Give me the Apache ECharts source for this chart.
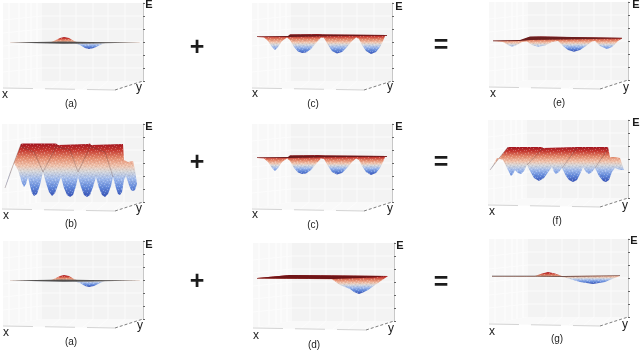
<!DOCTYPE html>
<html>
<head>
<meta charset="utf-8">
<script src="https://cdn.jsdelivr.net/npm/echarts@6/dist/echarts.min.js"></script>
<style>
  html, body { margin: 0; background: #fff; }
  #chart { width: 640px; height: 350px; }
</style>
</head>
<body>
<div id="chart"></div>
<script>
// surface outlines as [x, E] pairs
const aTop = [[7,38.5],[47,38.5],[52,40.5],[57,43],[61,44],[66,43],[71,40],[75,38.5],[137,38.5]]
const aBottom = [[7,38],[72,37.5],[77,36],[82,33],[86,32],[91,33],[97,36],[102,38],[137,38]]
const aPlane = [[7,38.4],[60,39.4],[87,39],[137,38.5],[87,37.4],[60,37.3]]

const bTop = [[3,14],[8,30],[13,42],[19,58],[20,58.5],[54,58.5],[56,57],[86,58],[88,58.5],[89,57],[121,58],[122,42],[126,40],[131,41],[133,32],[135,18]]
const bBottom = [[3,14],[8,28],[12,39],[16,32],[20,19],[22,15],[24,18],[26,25],[28,16],[30,9],[32,6],[35,8],[38,17],[41,30],[44,19],[47,10],[50,6],[53,9],[56,17],[59,25],[62,14],[65,7],[68,5],[71,7],[74,16],[76,25],[79,15],[82,7],[85,5],[88,7],[91,15],[94,25],[97,14],[100,7],[103,5],[106,8],[109,16],[111,25],[114,14],[116,8],[118,7],[120,10],[122,22],[124,26],[127,17],[129,12],[131,11],[133,12],[135,18]]
const bLines = [[[3,14],[13,42],[19,58]], [[41,30],[55,57]], [[76,30],[89,57]], [[20,55],[32,50],[41,30]], [[56,55],[68,52],[76,30]], [[89,55],[103,50],[111,25]]]

const cTop = [[5,44.5],[36,44.5],[38,46.5],[66,47],[73,46.5],[135,46]]
const cBottom = [[5,44],[12,43.5],[16,40],[20,34],[23,31],[26,34],[30,40],[35,43.5],[38,41],[42,34],[46,29.5],[50,28],[54,28.5],[59,32],[64,38],[69,43.5],[72,43],[76,36],[80,30],[85,27.5],[90,29],[95,34],[100,40],[104,43.5],[107,42],[110,36],[114,30],[119,27],[124,29],[128,34],[131,40],[133,45],[135,45.5]]
const cPlane = [[5,44.8],[36,45],[38,46.5],[73,46.5],[135,46],[135,45.2],[73,44.8],[38,44],[5,44.2]]

const dTop = [[4,43],[37,46],[135,45]]
const dBottom = [[4,42.5],[79,41.7],[87,36],[92,34],[97,32],[101,29],[106,27],[110,28.5],[115,31],[125,38],[135,45]]
const dPlane = [[4,43],[37,46],[135,45],[120,43.5],[80,42],[4,42.5]]

const eTop = [[4,39.3],[31,39.5],[41,43],[51,43.5],[133,42]]
const eBottom = [[4,39],[14,38],[19,35],[23,33.3],[28,35],[33,38],[38,38.5],[43,35],[49,33.3],[56,34.5],[63,38],[69,39],[74,34],[79,30],[85,28.3],[91,30],[97,34],[103,38.5],[106,39],[111,34],[118,31],[123,33],[129,39],[133,41.5]]
const ePlane = [[4,39.5],[31,40],[41,43.5],[51,43.5],[133,42.2],[133,41.5],[41,40],[31,39],[4,38.8]]

const fTop = [[2,28],[12,41],[20,51],[54,51],[55,50],[89,51],[120,51],[122,41],[127,41],[132,40],[136,28]]
const fBottom = [[2,28],[9,40],[15,38],[19,30],[23,22],[25,24],[27,28],[30,25],[33,24],[36,27],[39,33],[42,27],[46,20],[51,17],[56,20],[61,27],[64,31],[66,26],[68,24],[71,26],[74,30],[78,22],[81,18],[85,16],[89,18],[93,26],[95,31],[98,26],[101,24],[104,26],[107,30],[111,22],[115,17],[118,16],[121,18],[124,26],[127,30],[132,28],[136,28]]
const fLines = [[[2,28],[12,41],[20,51]], [[39,33],[55,50]], [[74,30],[89,50]], [[107,30],[120,49]]]

const gTop = [[3,41],[46,41],[53,43.5],[59,45],[66,43.5],[73,41],[131,41.5]]
const gBottom = [[3,40.5],[73,40],[81,38],[91,35],[104,33],[116,35],[123,38],[131,41]]
const gPlane = [[3,41.2],[50,41.3],[75,41],[131,41.5],[131,41],[75,40.3],[50,40.4],[3,40.6]]

const eTicks = { min: 0, max: 78, interval: 13 }
const backWallX = [57, 73, 90, 105, 122]
const sideWallX = [6, 16, 23, 28, 34]
const backWallE = [13, 26, 39, 52, 65]

// left, top, width of each plot
const panels = [
  { left: 3, top: 3, width: 140, up: aTop, down: aBottom, plane: aPlane, planeColor: 'rgba(55,55,55,0.85)' },
  { left: 2, top: 124, width: 141, up: bTop, down: bBottom, lines: bLines },
  { left: 3, top: 241, width: 140, up: aTop, down: aBottom, plane: aPlane, planeColor: 'rgba(55,55,55,0.85)' },
  { left: 252, top: 3, width: 140, up: cTop, down: cBottom, plane: cPlane, planeColor: '#6a1a1c' },
  { left: 252, top: 124, width: 140, up: cTop, down: cBottom, plane: cPlane, planeColor: '#6a1a1c' },
  { left: 253, top: 243, width: 141, up: dTop, down: dBottom, plane: dPlane, planeColor: '#6e1416' },
  { left: 489, top: 2, width: 139, up: eTop, down: eBottom, plane: ePlane, planeColor: '#6a1e1e' },
  { left: 488, top: 120, width: 140, up: fTop, down: fBottom, lines: fLines },
  { left: 489, top: 239, width: 139, up: gTop, down: gBottom, plane: gPlane, planeColor: '#4a3434' }
]

const energyLabels = [
  ['E', 149, 5], ['E', 149, 127], ['E', 149, 245],
  ['E', 399, 7], ['E', 399, 127], ['E', 400, 246],
  ['E', 636, 5], ['E', 636, 123], ['E', 634, 241]
]
const floorLabels = [
  ['x', 5, 95], ['y', 139, 88], ['x', 6, 216], ['y', 139, 209], ['x', 6, 333], ['y', 140, 326],
  ['x', 255, 94], ['y', 390, 87], ['x', 255, 215], ['y', 390, 209], ['x', 256, 336], ['y', 391, 329],
  ['x', 493, 94], ['y', 626, 88], ['x', 492, 212], ['y', 625, 206], ['x', 492, 332], ['y', 625, 325]
]
const captions = [
  ['(a)', 71, 104], ['(b)', 71, 224], ['(a)', 71, 342],
  ['(c)', 313, 104], ['(c)', 313, 225], ['(d)', 314, 345],
  ['(e)', 559, 103], ['(f)', 557, 221], ['(g)', 557, 339]
]
const operators = [
  ['+', 197, 48], ['+', 197, 163], ['+', 197, 282],
  ['=', 441, 46], ['=', 441, 163], ['=', 441, 283]
]

const coolwarm = [
  { offset: 0, color: '#a3141f' },
  { offset: 0.12, color: '#c5372f' },
  { offset: 0.27, color: '#e58a6c' },
  { offset: 0.42, color: '#f0c4ae' },
  { offset: 0.52, color: '#d6d6d8' },
  { offset: 0.66, color: '#a0baec' },
  { offset: 0.82, color: '#6288da' },
  { offset: 1, color: '#3450b4' }
]

// mesh dots of the surface
function speckle () {
  const canvas = document.createElement('canvas')
  canvas.width = 11
  canvas.height = 9
  const ctx = canvas.getContext('2d')
  ctx.fillStyle = 'rgba(255,255,255,0.26)'
  ;[[0,0],[4,1],[8,0],[2,3],[6,2],[10,3],[1,5],[5,4],[9,6],[3,7],[7,6],[0,8]].forEach(p => ctx.fillRect(p[0], p[1], 1, 1))
  ctx.fillStyle = 'rgba(60,40,40,0.09)'
  ;[[2,1],[6,0],[10,1],[0,3],[4,3],[8,4],[3,5],[7,4],[1,7],[5,7],[9,8]].forEach(p => ctx.fillRect(p[0], p[1], 1, 1))
  return canvas
}
const speckleFill = { image: speckle(), repeat: 'repeat' }

function coords (api, list) {
  return list.map(p => api.coord(p))
}

function wallsItem (width) {
  return function (params, api) {
    const poly = (pts, fill) => ({ type: 'polygon', shape: { points: coords(api, pts) }, style: { fill: fill } })
    const seg = (a, b, stroke, dash) => {
      const p = api.coord(a)
      const q = api.coord(b)
      return {
        type: 'line',
        shape: { x1: p[0], y1: p[1], x2: q[0], y2: q[1] },
        style: { stroke: stroke, lineWidth: 1, lineDash: dash || null }
      }
    }
    const frontX = width - 28
    const children = [
      poly([[0, 78], [39, 78], [39, 0], [0, -7]], '#f8f8f8'),
      poly([[39, 78], [width, 78], [width, 0], [39, 0]], '#f3f3f3'),
      poly([[0, -7], [39, 0], [width, 0], [frontX, -9]], '#f9f9f9')
    ]
    backWallX.forEach(x => {
      children.push(seg([x, 0], [x, 78], '#fbfbfb'))
      children.push(seg([x, 0], [x - 10, -8], '#fdfdfd'))
    })
    sideWallX.forEach(x => children.push(seg([x, 78], [x, -7 + x * 7 / 39], '#fefefe')))
    backWallE.forEach(e => {
      children.push(seg([39, e], [width, e], '#fbfbfb'))
      children.push(seg([0, e - 4], [39, e], '#fdfdfd'))
    })
    children.push(seg([0, -7], [frontX, -9], '#d4d4d4', [30, 12]))
    children.push(seg([frontX, -9], [width, 0], '#808080', [3, 2]))
    return { type: 'group', children: children }
  }
}

function surfaceItem (panel) {
  const ring = panel.up.concat(panel.down.slice().reverse())
  const values = ring.map(p => p[1])
  const hi = Math.max.apply(null, values)
  const lo = Math.min.apply(null, values)
  return function (params, api) {
    const points = coords(api, ring)
    const y1 = api.coord([0, hi])[1]
    const y2 = api.coord([0, lo])[1]
    const children = [
      {
        type: 'polygon',
        shape: { points: points },
        style: { fill: new echarts.graphic.LinearGradient(0, y1, 0, y2, coolwarm, true) }
      },
      { type: 'polygon', shape: { points: points }, style: { fill: speckleFill } }
    ]
    if (panel.plane) {
      children.push({
        type: 'polygon',
        shape: { points: coords(api, panel.plane) },
        style: { fill: panel.planeColor }
      })
    }
    return { type: 'group', children: children }
  }
}

const grid = []
const xAxis = []
const yAxis = []
const series = []

panels.forEach((panel, i) => {
  grid.push({ left: panel.left, top: panel.top, width: panel.width, height: 78 })
  xAxis.push({ type: 'value', gridIndex: i, min: 0, max: panel.width, show: false })
  yAxis.push({
    type: 'value',
    gridIndex: i,
    position: 'right',
    min: eTicks.min,
    max: eTicks.max,
    interval: eTicks.interval,
    axisLine: { show: true, onZero: false, lineStyle: { color: '#c8c8c8' } },
    axisTick: { show: true, length: 2, inside: false, lineStyle: { color: '#666' } },
    axisLabel: { show: false },
    splitLine: { show: false }
  })
  series.push({
    type: 'custom', xAxisIndex: i, yAxisIndex: i, silent: true, z: 1,
    data: [0], renderItem: wallsItem(panel.width)
  })
  series.push({
    type: 'custom', xAxisIndex: i, yAxisIndex: i, silent: true, z: 3,
    data: [0], renderItem: surfaceItem(panel)
  })
  ;(panel.lines || []).forEach(line => {
    series.push({
      type: 'line', xAxisIndex: i, yAxisIndex: i, silent: true, z: 4,
      data: line, showSymbol: false,
      lineStyle: { color: 'rgba(90,60,60,0.3)', width: 1 }
    })
  })
})

function addText (graphic, list, size, weight) {
  list.forEach(l => graphic.push({
    type: 'text',
    x: l[1],
    y: l[2],
    style: {
      text: l[0], fontFamily: 'Liberation Sans', fontSize: size, fontWeight: weight,
      fill: '#1c1c1c', align: 'center', verticalAlign: 'middle'
    }
  }))
}
const graphic = []
addText(graphic, energyLabels, 11, 'bold')
addText(graphic, floorLabels, 12, 'normal')
addText(graphic, captions, 10, 'normal')
addText(graphic, operators, 25, 'bold')

const chart = echarts.init(document.getElementById('chart'), null, { renderer: 'canvas' })
chart.setOption({
  animation: false,
  backgroundColor: '#fff',
  grid: grid,
  xAxis: xAxis,
  yAxis: yAxis,
  series: series,
  graphic: graphic
})
</script>
</body>
</html>
